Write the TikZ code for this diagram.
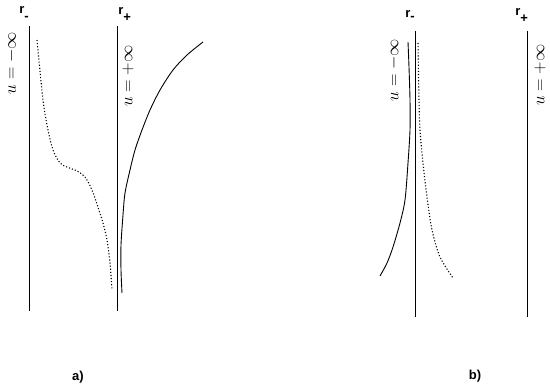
\documentclass[tikz,border=0pt]{standalone}
\usepackage{fontspec}
\newfontfamily\labfont{Liberation Sans}
\begin{document}
\begin{tikzpicture}[x=1pt, y=-1pt, line width=0.85pt,
  lab/.style={font=\labfont\bfseries\fontsize{13}{15}\selectfont, anchor=base west, inner sep=0pt},
  inf/.style={font=\fontsize{16}{18}\selectfont, rotate=90, inner sep=0pt}]
  \useasboundingbox (0,0) rectangle (550,389);
  % a)
  \coordinate (Ma) at (29,26); \coordinate (Mb) at (29,311);
  \coordinate (Pa) at (117,26); \coordinate (Pb) at (117,311);
  \draw (Ma) -- (Mb);
  \draw (Pa) -- (Pb);
  \draw[dotted, line width=1.1pt] plot[smooth] coordinates {(37,40) (43,100) (48,130) (53,150) (60,163)
    (67,167) (77,171) (85,177) (92,190) (98,207) (103,223) (107,240) (110,263) (112,290)};
  \draw[line width=0.9pt] plot[smooth] coordinates {(203,42) (187,55) (173,70) (160,90) (150,110)
    (142,130) (135,150) (130,170) (125,193) (123,215) (121,245) (121,270) (122,293)};
  \node[lab] at (19,13) {r\raisebox{-.6em}{-}};
  \node[lab] at (118,14) {r\raisebox{-.6em}{+}};
  \node[inf] at (11.5,63) {$u=-\infty$};
  \node[inf] at (128,76) {$u=+\infty$};
  \node[lab, anchor=center] at (78,377) {a)};
  % b)
  \coordinate (Mc) at (415,31); \coordinate (Md) at (415,317);
  \coordinate (Pc) at (527,31); \coordinate (Pd) at (527,317);
  \draw (Mc) -- (Md);
  \draw (Pc) -- (Pd);
  \draw[line width=0.9pt] plot[smooth] coordinates {(408,42) (409,67) (410,100) (410,130) (408,163)
    (405,200) (400,223) (393,247) (387,263) (380,276)};
  \draw[dotted, line width=1.1pt] plot[smooth] coordinates {(418,43) (419,100) (420,130) (423,163)
    (427,197) (432,230) (440,257) (453,278)};
  \node[lab] at (405,17) {r\raisebox{-.25em}{-}};
  \node[lab] at (515,15) {r\raisebox{-.6em}{+}};
  \node[inf] at (394,70) {$u=-\infty$};
  \node[inf] at (540,75) {$u=+\infty$};
  \node[lab, anchor=center] at (475,376) {b)};
\end{tikzpicture}
\end{document}
